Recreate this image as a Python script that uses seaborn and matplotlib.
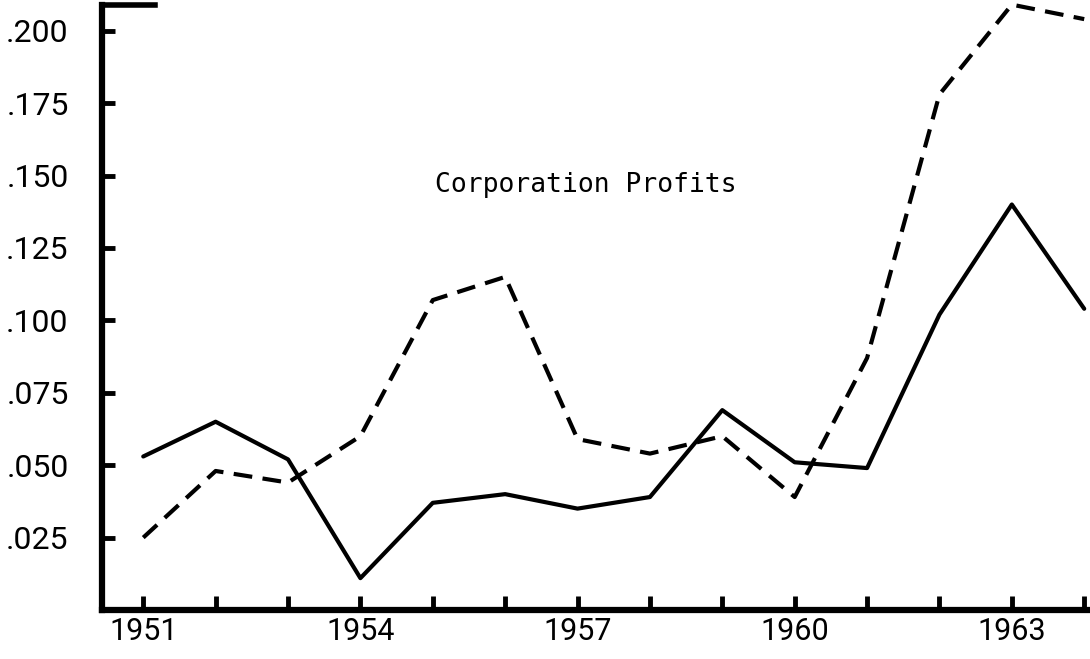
import numpy as np
import pandas as pd
import seaborn as sns
import matplotlib.pyplot as plt

# values
years = list(range(1951, 1965))
solid_vals = [0.053, 0.065, 0.052, 0.011, 0.037, 0.040, 0.035, 0.039, 0.069,
              0.051, 0.049, 0.102, 0.140, 0.104]
dashed_vals = [0.025, 0.048, 0.044, 0.060, 0.107, 0.115, 0.059, 0.054, 0.060,
               0.039, 0.087, 0.178, 0.209, 0.204]
y_ticks = [0.025, 0.050, 0.075, 0.100, 0.125, 0.150, 0.175, 0.200]
y_tick_labels = ['.025', '.050', '.075', '.100', '.125', '.150', '.175', '.200']
x_tick_labels = [str(y) if (y - 1951) % 3 == 0 else '' for y in years]
title_text = 'Corporation Profits'

df = pd.DataFrame({'year': years, 'solid': solid_vals, 'dashed': dashed_vals})

sns.set_style('ticks')
plt.rcParams['font.family'] = ['Roboto', 'DejaVu Sans']
plt.rcParams['text.color'] = 'black'
plt.rcParams['xtick.color'] = 'black'
plt.rcParams['ytick.color'] = 'black'

fig = plt.figure(figsize=(10.9, 6.59), dpi=100)
ax = fig.add_axes([102 / 1090, 49 / 659, 988 / 1090, 610 / 659])

sns.lineplot(data=df, x='year', y='solid', color='black', lw=3, ax=ax, clip_on=False)
sns.lineplot(data=df, x='year', y='dashed', color='black', lw=3,
             linestyle=(0, (4.5, 2.5)), ax=ax, clip_on=False)

ax.set_xlim(1950.43, 1964.08)
ax.set_ylim(0, 0.2106)

ax.set_xticks(years)
ax.set_xticklabels(x_tick_labels)
ax.set_yticks(y_ticks)
ax.set_yticklabels(y_tick_labels)
ax.set_xlabel('')
ax.set_ylabel('')

ax.tick_params(axis='x', direction='in', length=10, width=3.5, pad=5, labelsize=22)
ax.tick_params(axis='y', direction='in', length=9, width=3.5, pad=24, labelsize=23)

for side in ['top', 'right']:
    ax.spines[side].set_visible(False)
for side in ['left', 'bottom']:
    ax.spines[side].set_linewidth(4.5)
    ax.spines[side].set_color('black')
ax.spines['left'].set_bounds(0, 0.2089)

# short horizontal stub at the top of the y axis
ax.plot([0, 0.054], [0.992, 0.992], transform=ax.transAxes, color='black',
        lw=4, clip_on=False, solid_capstyle='projecting')

ax.text(1957.12, 0.1467, title_text, ha='center', va='center',
        fontsize=19, family=['DejaVu Sans Mono'])

fig.savefig('out.png', dpi=100)
